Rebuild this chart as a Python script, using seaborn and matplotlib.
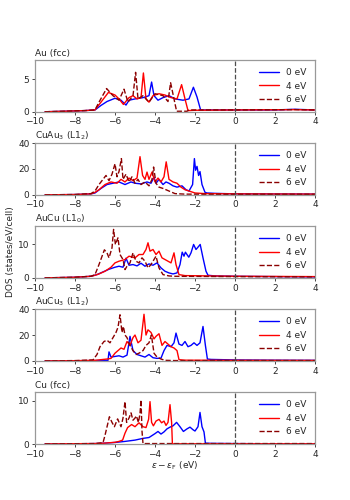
import matplotlib
matplotlib.use("Agg")
import matplotlib.pyplot as plt
import seaborn as sns

# panel names, y limits and y ticks
titles = ['Au (fcc)', 'CuAu$_3$ (L1$_2$)', 'AuCu (L1$_0$)', 'AuCu$_3$ (L1$_2$)', 'Cu (fcc)']
ymax = [8, 40, 15.5, 40, 12]
yticks = [[0, 5], [0, 20, 40], [0, 10], [0, 20, 40], [0, 10]]
labels = ['0 eV', '4 eV', '6 eV']

# Au (fcc)
au_x0 = [-9.5, -8.5, -7.5, -7.0, -6.7, -6.4, -6.0, -5.7, -5.45, -5.3, -5.0, -4.6, -4.3, -4.17, -4.05, -3.85, -3.6, -3.3, -3.0, -2.6, -2.3, -2.08, -1.9, -1.72, -1.6, 0, 2, 3, 4]
au_y0 = [0.02, 0.1, 0.2, 0.3, 1.0, 1.6, 2.1, 1.8, 1.05, 1.8, 2.0, 2.2, 2.5, 4.6, 2.5, 1.8, 2.2, 2.5, 2.0, 1.8, 2.0, 3.8, 2.3, 0.3, 0.3, 0.3, 0.3, 0.4, 0.3]
au_x4 = [-9.5, -8.5, -7.5, -7.0, -6.7, -6.33, -6.0, -5.8, -5.58, -5.3, -5.1, -4.9, -4.7, -4.58, -4.45, -4.3, -4.1, -3.8, -3.5, -3.2, -2.9, -2.67, -2.5, -2.35, -2.0, 0, 3, 4]
au_y4 = [0.02, 0.1, 0.2, 0.3, 1.5, 3.0, 2.6, 2.0, 1.15, 2.2, 2.5, 2.0, 2.2, 6.0, 2.0, 1.5, 2.5, 2.8, 2.6, 2.2, 2.0, 4.2, 2.0, 0.2, 0.25, 0.3, 0.35, 0.3]
au_x6 = [-9.5, -8.5, -7.5, -7.0, -6.8, -6.42, -6.1, -5.8, -5.55, -5.35, -5.1, -4.97, -4.85, -4.6, -4.3, -4.0, -3.6, -3.35, -3.22, -3.05, -2.92, -2.4, -2.3, 0, 3, 4]
au_y6 = [0.02, 0.1, 0.2, 0.3, 1.5, 3.6, 2.5, 1.8, 3.5, 1.5, 2.5, 6.1, 2.0, 2.5, 1.5, 2.8, 2.5, 1.6, 4.5, 2.0, 0.1, 0.1, 0.3, 0.3, 0.35, 0.3]

# CuAu3 (L1_2)
cuau3_x0 = [-9.5, -8, -7.2, -7.0, -6.7, -6.4, -6.1, -5.8, -5.5, -5.2, -5.0, -4.7, -4.4, -4.2, -4.05, -3.95, -3.8, -3.6, -3.45, -3.3, -3.1, -2.9, -2.65, -2.45, -2.3, -2.12, -2.03, -1.97, -1.9, -1.82, -1.75, -1.65, -1.5, -1.4, -1.0, 0, 2, 4]
cuau3_y0 = [0.05, 0.3, 0.8, 1.5, 5, 8, 9, 10, 8, 10, 9, 8.5, 10, 9, 13.7, 9, 12, 8, 10, 9, 7, 6, 7, 4, 3, 8, 28, 19, 22, 15, 18, 8, 2, 1.5, 1.2, 0.8, 0.7, 0.6]
cuau3_x4 = [-9.5, -8, -7.2, -7.0, -6.8, -6.5, -6.2, -5.9, -5.7, -5.5, -5.3, -5.1, -4.9, -4.75, -4.62, -4.5, -4.4, -4.3, -4.15, -4.0, -3.85, -3.7, -3.55, -3.44, -3.3, -3.1, -2.9, -2.7, -2.5, -2.3, -2.0, -1.5, 0, 4]
cuau3_y4 = [0.05, 0.3, 0.8, 2, 4, 8, 10, 9, 12, 10, 13, 11, 13, 29.5, 15, 12, 17.6, 12, 17.6, 10, 13, 10, 14, 25.5, 12, 10, 9, 6, 4, 3, 1.5, 1, 0.8, 0.6]
cuau3_x6 = [-9.5, -8, -7.2, -7.0, -6.8, -6.6, -6.45, -6.3, -6.15, -6.0, -5.9, -5.8, -5.68, -5.6, -5.45, -5.3, -5.15, -5.0, -4.85, -4.7, -4.5, -4.3, -4.15, -4.07, -3.95, -3.8, -3.6, -3.3, -3.0, -2.5, 0, 4]
cuau3_y6 = [0.05, 0.3, 1, 3, 8, 12, 15, 11, 16, 24, 14, 18, 28, 12, 16, 10, 14, 9, 12, 8, 10, 7, 12, 21.5, 9, 6, 5, 3, 1, 0.6, 0.5, 0.5]

# AuCu (L1_0)
aucu_x0 = [-9.5, -8, -7.2, -6.9, -6.6, -6.3, -6.0, -5.8, -5.6, -5.45, -5.3, -5.1, -4.9, -4.7, -4.5, -4.3, -4.1, -3.9, -3.7, -3.5, -3.3, -3.1, -2.9, -2.75, -2.64, -2.55, -2.48, -2.38, -2.31, -2.2, -2.07, -1.95, -1.85, -1.74, -1.6, -1.45, -1.35, -1.0, 0, 2, 4]
aucu_y0 = [0.02, 0.2, 0.5, 1.0, 1.8, 2.6, 3.2, 3.5, 3.2, 5.9, 3.8, 4.0, 3.6, 4.4, 3.5, 4.2, 3.8, 4.5, 3.0, 2.0, 1.5, 1.2, 1.5, 4.0, 7.7, 6.5, 7.7, 6.8, 6.2, 7.5, 10.0, 8.5, 9.2, 10.0, 6.0, 2.0, 0.8, 0.6, 0.5, 0.4, 0.3]
aucu_x4 = [-9.5, -8, -7.2, -7.0, -6.8, -6.5, -6.2, -6.0, -5.8, -5.5, -5.3, -5.0, -4.8, -4.6, -4.45, -4.35, -4.25, -4.1, -3.95, -3.8, -3.65, -3.5, -3.35, -3.2, -3.05, -2.95, -2.8, -2.5, 0, 4]
aucu_y4 = [0.02, 0.2, 0.5, 0.8, 1.2, 2.0, 3.2, 4.5, 5.0, 5.5, 6.5, 6.0, 7.0, 7.0, 8.5, 10.5, 8.0, 8.5, 7.0, 8.0, 6.0, 5.5, 5.0, 4.5, 7.5, 4.0, 1.0, 0.7, 0.5, 0.4]
aucu_x6 = [-9.5, -8, -7.2, -7.0, -6.8, -6.53, -6.4, -6.3, -6.15, -6.07, -5.98, -5.85, -5.75, -5.6, -5.5, -5.4, -5.25, -5.1, -4.95, -4.8, -4.65, -4.5, -4.35, -4.2, -4.05, -3.95, -3.8, -3.6, -3.3, -3.0, 0, 4]
aucu_y6 = [0.02, 0.2, 0.5, 1.0, 4.0, 8.4, 7.5, 6.0, 9.0, 14.5, 10.0, 12.0, 7.0, 5.5, 2.5, 3.5, 4.5, 7.5, 5.0, 4.5, 6.0, 5.0, 3.0, 4.0, 5.5, 6.5, 3.0, 1.0, 0.6, 0.5, 0.4, 0.3]

# AuCu3 (L1_2)
aucu3_x0 = [-9.5, -8, -7.0, -6.5, -6.35, -6.3, -6.2, -6.0, -5.8, -5.6, -5.4, -5.25, -5.1, -4.9, -4.7, -4.5, -4.3, -4.1, -3.9, -3.7, -3.55, -3.4, -3.2, -3.05, -2.95, -2.8, -2.65, -2.5, -2.35, -2.2, -2.05, -1.9, -1.75, -1.6, -1.48, -1.38, -1.2, 0, 2, 4]
aucu3_y0 = [0.05, 0.2, 0.3, 0.5, 0.5, 7, 3, 3.5, 4, 3, 4.5, 19, 8, 5, 4, 3, 5, 2.5, 2.0, 2.2, 8, 12, 11, 14, 21.5, 13, 12, 15, 11, 12, 14, 12, 14, 26.6, 12, 1.5, 1.2, 0.8, 0.6, 0.5]
aucu3_x4 = [-9.5, -8, -7.0, -6.7, -6.4, -6.2, -6.0, -5.85, -5.7, -5.55, -5.4, -5.25, -5.1, -5.0, -4.85, -4.7, -4.55, -4.45, -4.35, -4.2, -4.05, -3.95, -3.8, -3.65, -3.5, -3.35, -3.2, -3.05, -2.9, -2.8, -2.5, 0, 4]
aucu3_y4 = [0.05, 0.2, 0.5, 1.0, 1.5, 2, 6, 8, 10, 9, 15, 12, 18, 20, 14, 16, 36, 20, 24, 22, 17, 19, 21, 12, 15, 13, 11, 10, 8, 1.0, 0.6, 0.5, 0.4]
aucu3_x6 = [-9.5, -8, -7.1, -6.9, -6.75, -6.55, -6.4, -6.25, -6.1, -5.95, -5.85, -5.75, -5.65, -5.58, -5.5, -5.4, -5.25, -5.1, -4.95, -4.8, -4.6, -4.45, -4.3, -4.18, -4.05, -3.9, -3.7, -3.5, -3.0, 0, 4]
aucu3_y6 = [0.05, 0.3, 0.8, 5, 11, 15, 16, 14, 18, 22, 26, 35.6, 22, 26.6, 20, 18, 12, 8, 5, 6, 8, 12, 14, 20, 6, 3, 1.5, 0.5, 0.3, 0.3, 0.3]

# Cu (fcc)
cu_x0 = [-9.5, -8, -7, -6.5, -6, -5.5, -5, -4.6, -4.3, -4.0, -3.85, -3.7, -3.55, -3.4, -3.25, -3.1, -2.92, -2.75, -2.58, -2.4, -2.25, -2.1, -2.0, -1.85, -1.75, -1.65, -1.55, -1.48, -1.2, 0, 2, 4]
cu_y0 = [0.02, 0.05, 0.1, 0.2, 0.35, 0.6, 0.9, 1.3, 1.5, 2.4, 2.9, 2.3, 2.8, 3.5, 3.9, 4.2, 5.0, 4.0, 2.9, 3.5, 3.9, 3.3, 3.0, 4.0, 7.3, 4.0, 2.8, 0.2, 0.15, 0.1, 0.05, 0.05]
cu_x4 = [-9.5, -7, -6.5, -6.0, -5.8, -5.62, -5.5, -5.37, -5.17, -5.0, -4.8, -4.6, -4.45, -4.32, -4.25, -4.17, -4.08, -3.95, -3.8, -3.67, -3.55, -3.45, -3.35, -3.25, -3.17, -3.13, -2.5, 0, 4]
cu_y4 = [0.02, 0.1, 0.2, 0.4, 0.6, 0.9, 2.5, 3.8, 4.5, 4.0, 4.9, 4.0, 3.8, 5.7, 9.8, 5.0, 4.2, 5.3, 5.7, 4.9, 5.3, 4.3, 5.0, 9.1, 5.0, 0.05, 0.05, 0.05, 0.05]
cu_x6 = [-9.5, -7, -6.6, -6.5, -6.28, -6.15, -6.03, -5.87, -5.7, -5.6, -5.5, -5.42, -5.3, -5.2, -5.1, -5.0, -4.93, -4.83, -4.75, -4.7, -4.65, -4.6, 0, 4]
cu_y6 = [0.02, 0.1, 0.3, 2.0, 6.3, 5.0, 4.0, 5.8, 4.0, 6.0, 9.8, 5.0, 6.0, 7.2, 5.5, 6.0, 6.5, 5.0, 7.0, 10.2, 3.0, 0.1, 0.1, 0.1]

panels = [
    [(au_x0, au_y0), (au_x4, au_y4), (au_x6, au_y6)],
    [(cuau3_x0, cuau3_y0), (cuau3_x4, cuau3_y4), (cuau3_x6, cuau3_y6)],
    [(aucu_x0, aucu_y0), (aucu_x4, aucu_y4), (aucu_x6, aucu_y6)],
    [(aucu3_x0, aucu3_y0), (aucu3_x4, aucu3_y4), (aucu3_x6, aucu3_y6)],
    [(cu_x0, cu_y0), (cu_x4, cu_y4), (cu_x6, cu_y6)],
]

colors = ['#0000ff', '#ff0000', '#8b0000']
styles = ['-', '-', '--']
fs = 6.5

sns.set_theme(style='ticks', rc={'axes.edgecolor': '0.6', 'xtick.color': '0.15',
                                 'ytick.color': '0.15', 'xtick.major.size': 2.5,
                                 'ytick.major.size': 2.5, 'xtick.major.width': 0.6,
                                 'ytick.major.width': 0.6, 'axes.linewidth': 0.9})
plt.rcParams['font.family'] = ['DejaVu Sans']
plt.rcParams['font.size'] = fs

fig, axes = plt.subplots(5, 1, figsize=(3.5, 5), dpi=100)
fig.subplots_adjust(left=0.1, right=0.9, top=0.88, bottom=0.112, hspace=0.6)

for i, ax in enumerate(axes):
    for (x, y), c, ls, lab in zip(panels[i], colors, styles, labels):
        sns.lineplot(x=x, y=y, ax=ax, color=c, linestyle=ls, lw=1.0,
                     label=lab, sort=False, estimator=None)
    ax.axvline(0, color='0.3', ls='--', lw=0.9)
    ax.set_xlim(-10, 4)
    ax.set_ylim(0, ymax[i])
    ax.set_xticks([-10, -8, -6, -4, -2, 0, 2, 4])
    ax.set_yticks(yticks[i])
    ax.tick_params(labelsize=fs, pad=1.5)
    ax.set_title(titles[i], loc='left', fontsize=fs, pad=3)
    ax.legend(loc='upper right', frameon=False, fontsize=fs, handlelength=2.2,
              labelspacing=0.5, borderaxespad=0.5)
    ax.set_ylabel('')

axes[2].set_ylabel('DOS (states/eV/cell)', fontsize=fs, labelpad=2)
axes[4].set_xlabel(r'$\epsilon - \epsilon_{\mathrm{F}}$ (eV)', fontsize=fs, labelpad=1)

fig.savefig('out.png', dpi=100)
